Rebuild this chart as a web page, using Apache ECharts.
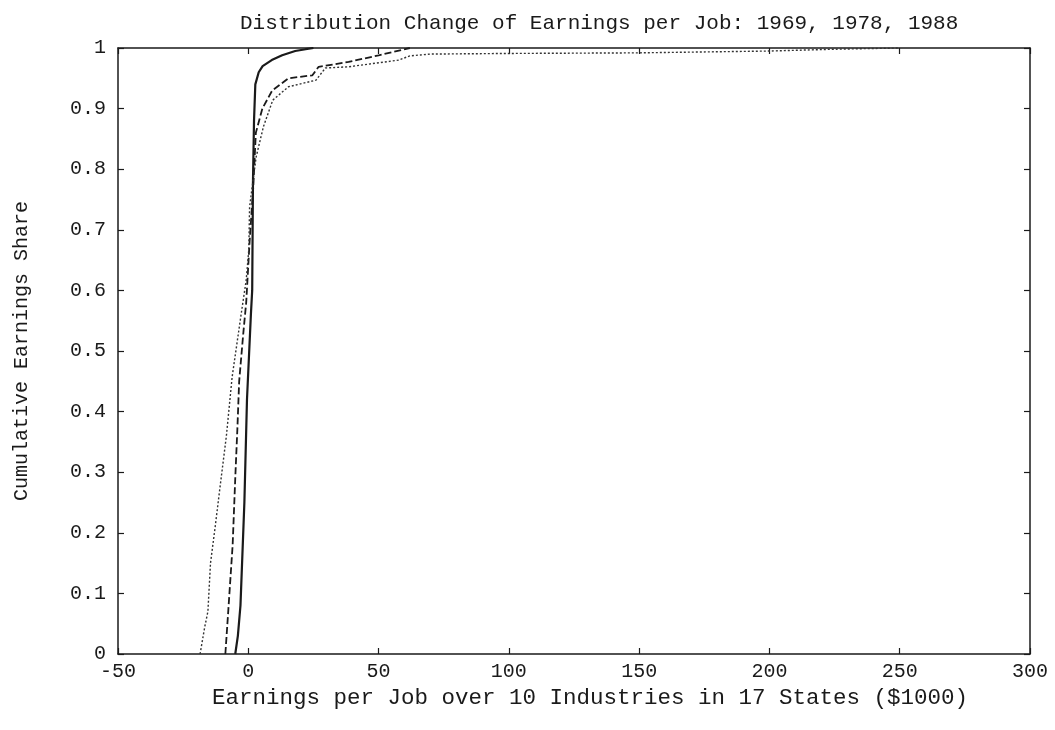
<!DOCTYPE html>
<html>
<head>
<meta charset="utf-8">
<title>Distribution Change of Earnings per Job</title>
<script src="https://cdn.jsdelivr.net/npm/echarts@6.0.0/dist/echarts.min.js"></script>
<style>
  html, body { margin: 0; padding: 0; background: #fff; }
  #chart { width: 1055px; height: 730px; }
</style>
</head>
<body>
<div id="chart"></div>
<script>
// cumulative earnings share vs earnings per job ($1000)
const x1969 = [-5, -4, -3, -1.5, -0.5, 1, 1.5, 1.8, 2.2, 2.7, 4, 5.5, 9, 13, 18, 22, 25]
const y1969 = [0, 0.03, 0.08, 0.25, 0.42, 0.56, 0.6, 0.78, 0.88, 0.94, 0.96, 0.97, 0.98, 0.988, 0.995, 0.998, 1]

const x1978 = [-8.8, -7.7, -6, -5, -4.2, -3.5, -1.9, -0.8, 0.5, 1.9, 2.9, 5.4, 9.2, 15.4, 24.6, 27, 38.5, 50, 59, 62]
const y1978 = [0, 0.07, 0.18, 0.29, 0.37, 0.45, 0.53, 0.58, 0.68, 0.77, 0.86, 0.9, 0.93, 0.95, 0.955, 0.969, 0.977, 0.988, 0.997, 1]

const x1988 = [-18.5, -16.7, -15.5, -14.5, -12.7, -11, -8.4, -6.2, -2.9, -0.8, 0.2, 0.5, 3, 5.8, 9.4, 15.4, 26, 29.6, 38.5, 57.7, 62, 70, 100, 150, 200, 225, 250]
const y1988 = [0, 0.045, 0.07, 0.15, 0.21, 0.27, 0.36, 0.457, 0.556, 0.617, 0.667, 0.738, 0.82, 0.87, 0.914, 0.936, 0.947, 0.967, 0.969, 0.98, 0.987, 0.99, 0.991, 0.992, 0.995, 0.998, 1]

const xTicks = { min: -50, max: 300, interval: 50 }
const yTicks = { min: 0, max: 1, interval: 0.1 }

const font = 'Liberation Mono'
const ink = '#1a1a1a'

function pairs(xs, ys) {
  return xs.map((x, i) => [x, ys[i]])
}

const chart = echarts.init(document.getElementById('chart'))

// box frame: every axis keeps its line on the grid edge
const frameLine = { show: true, onZero: false, lineStyle: { color: ink, width: 1.5 } }
const innerTick = { show: true, inside: true, length: 6, lineStyle: { color: ink, width: 1.2 } }

const option = {
  animation: false,
  backgroundColor: '#fff',
  title: {
    text: 'Distribution Change of Earnings per Job: 1969, 1978, 1988',
    left: 235,
    top: 8,
    textStyle: { fontFamily: font, fontSize: 21, fontWeight: 'normal', color: ink }
  },
  grid: {
    left: 118,
    right: 25,
    top: 48,
    bottom: 76,
    outerBoundsMode: 'none'
  },
  xAxis: [
    {
      type: 'value',
      position: 'bottom',
      min: xTicks.min, max: xTicks.max, interval: xTicks.interval,
      axisLine: frameLine,
      axisTick: innerTick,
      splitLine: { show: false },
      axisLabel: { fontFamily: font, fontSize: 20, color: ink, margin: 8 },
      name: 'Earnings per Job over 10 Industries in 17 States ($1000)',
      nameLocation: 'middle',
      nameGap: 28,
      nameTextStyle: { fontFamily: font, fontSize: 22.5, color: ink, padding: [0, 0, 0, 32] }
    },
    {
      type: 'value',
      position: 'top',
      min: xTicks.min, max: xTicks.max, interval: xTicks.interval,
      axisLine: frameLine,
      axisTick: innerTick,
      splitLine: { show: false },
      axisLabel: { show: false }
    }
  ],
  yAxis: [
    {
      type: 'value',
      position: 'left',
      min: yTicks.min, max: yTicks.max, interval: yTicks.interval,
      axisLine: frameLine,
      axisTick: innerTick,
      splitLine: { show: false },
      axisLabel: { fontFamily: font, fontSize: 20, color: ink, margin: 12 },
      name: 'Cumulative Earnings Share',
      nameLocation: 'middle',
      nameGap: 86,
      nameTextStyle: { fontFamily: font, fontSize: 20, color: ink }
    },
    {
      type: 'value',
      position: 'right',
      min: yTicks.min, max: yTicks.max, interval: yTicks.interval,
      axisLine: frameLine,
      axisTick: innerTick,
      splitLine: { show: false },
      axisLabel: { show: false }
    }
  ],
  series: [
    {
      name: '1969',
      type: 'line',
      symbol: 'none',
      data: pairs(x1969, y1969),
      lineStyle: { color: ink, width: 2.2, type: 'solid' }
    },
    {
      name: '1978',
      type: 'line',
      symbol: 'none',
      data: pairs(x1978, y1978),
      lineStyle: { color: ink, width: 1.8, type: [7, 3] }
    },
    {
      name: '1988',
      type: 'line',
      symbol: 'none',
      data: pairs(x1988, y1988),
      lineStyle: { color: '#333', width: 1.4, type: [2, 2] }
    }
  ]
}

chart.setOption(option)
</script>
</body>
</html>
